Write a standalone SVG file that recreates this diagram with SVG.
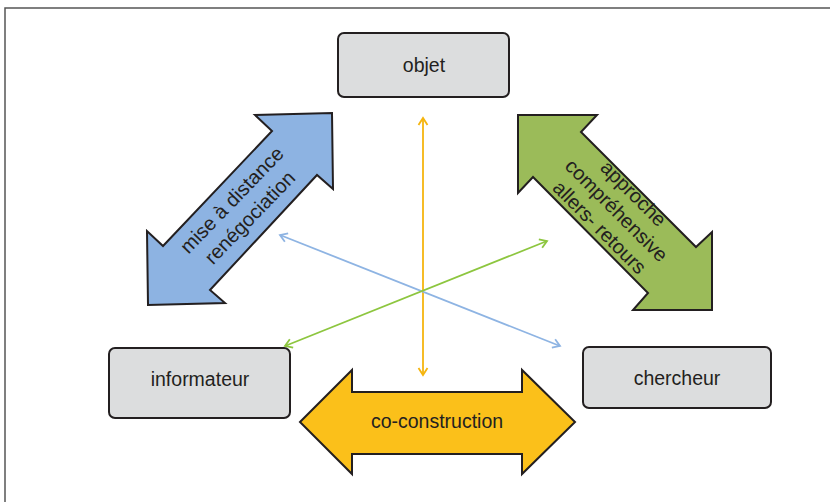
<svg xmlns="http://www.w3.org/2000/svg" width="830" height="502" viewBox="0 0 830 502">
<defs>
<style>
.box{fill:#DCDDDE;stroke:#231F20;stroke-width:2}
.lbl{font-family:"Liberation Sans",Arial,sans-serif;font-size:19.5px;fill:#231F20;text-anchor:middle}
.rl{font-size:20px}
.big{stroke:#231F20;stroke-width:2;stroke-linejoin:miter}
.ln{fill:none;stroke-width:1.8}
</style>
<marker id="mb" markerUnits="userSpaceOnUse" markerWidth="12" markerHeight="12" refX="9" refY="6" orient="auto-start-reverse" viewBox="0 0 12 12"><path d="M2,1.5 L9,6 L2,10.5" fill="none" stroke="#8EB4E3" stroke-width="1.8"/></marker>
<marker id="mg" markerUnits="userSpaceOnUse" markerWidth="12" markerHeight="12" refX="9" refY="6" orient="auto-start-reverse" viewBox="0 0 12 12"><path d="M2,1.5 L9,6 L2,10.5" fill="none" stroke="#8DC63F" stroke-width="1.8"/></marker>
<marker id="my" markerUnits="userSpaceOnUse" markerWidth="12" markerHeight="12" refX="9" refY="6" orient="auto-start-reverse" viewBox="0 0 12 12"><path d="M2,1.5 L9,6 L2,10.5" fill="none" stroke="#F5B50F" stroke-width="1.8"/></marker>
</defs>
<rect width="830" height="502" fill="#FFFFFF"/>
<path d="M5,502 L5,8 L830,8" fill="none" stroke="#555" stroke-width="1.5"/>

<g id="connectors">
<line class="ln" x1="423" y1="118" x2="423" y2="375" stroke="#F5B50F" marker-start="url(#my)" marker-end="url(#my)"/>
<line class="ln" x1="280" y1="235" x2="560" y2="346" stroke="#8EB4E3" marker-start="url(#mb)" marker-end="url(#mb)"/>
<line class="ln" x1="285" y1="346" x2="547" y2="241" stroke="#8DC63F" marker-start="url(#mg)" marker-end="url(#mg)"/>
</g>

<g id="arrow-blue">
<polygon class="big" fill="#8DB3E2" points="332,113 333,189 317,175 210,290 225,303 148,305 147,231 163,246 272,131 255,115"/>
<g transform="translate(241,209) rotate(-46)">
<text class="lbl rl" x="0" y="-6">mise à distance</text>
<text class="lbl rl" x="0" y="19">renégociation</text>
</g>
</g>

<g id="arrow-green">
<polygon class="big" fill="#9BBB59" points="518,115 597,115 581,132 696,247 712,232 712,310 633,310 648,293 533,177 518,193"/>
<g transform="translate(616,211) rotate(45)">
<text class="lbl rl" x="0" y="-18">approche</text>
<text class="lbl rl" x="0" y="6">compréhensive</text>
<text class="lbl rl" x="0" y="30">allers- retours</text>
</g>
</g>

<g id="arrow-yellow">
<polygon class="big" fill="#FBC01A" points="300,422 352,370 352,392 522,392 522,370 575,422 522,474 522,454 352,454 352,474"/>
<text class="lbl" x="437" y="428">co-construction</text>
</g>

<g id="objet">
<rect class="box" x="338" y="33" width="171" height="64" rx="6"/>
<text class="lbl" x="424" y="72">objet</text>
</g>
<g id="informateur">
<rect class="box" x="109" y="348" width="181" height="70" rx="6"/>
<text class="lbl" x="200" y="386">informateur</text>
</g>
<g id="chercheur">
<rect class="box" x="583" y="347" width="188" height="61" rx="6"/>
<text class="lbl" x="677" y="385">chercheur</text>
</g>
</svg>
